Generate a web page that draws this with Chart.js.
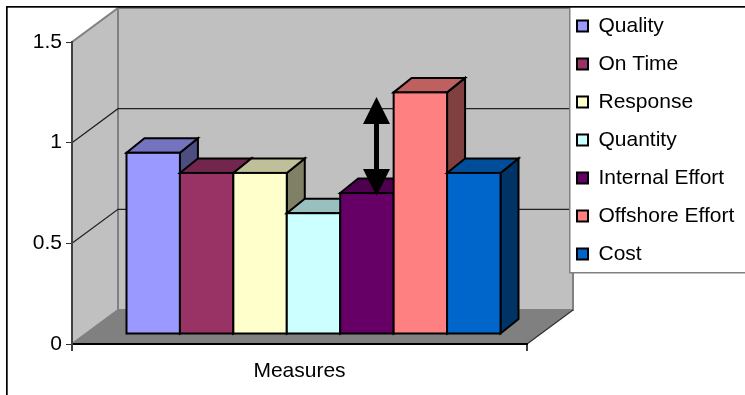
<!DOCTYPE html>
<html>
<head>
<meta charset="utf-8">
<title>Measures</title>
<script src="https://cdn.jsdelivr.net/npm/chart.js@4/dist/chart.umd.js"></script>
<style>
  html, body { margin: 0; padding: 0; background: #fff; overflow: hidden; }
  canvas { display: block; }
</style>
</head>
<body>
<canvas id="measuresChart" width="745" height="395"></canvas>
<script>
const categories = ["Measures"];
const seriesNames = ["Quality", "On Time", "Response", "Quantity", "Internal Effort", "Offshore Effort", "Cost"];
const seriesValues = [0.9, 0.8, 0.8, 0.6, 0.7, 1.2, 0.8];
const seriesColors = ["#9999ff", "#993366", "#ffffcc", "#ccffff", "#660066", "#ff8080", "#0066cc"];
const yTicks = [0, 0.5, 1, 1.5];

const FONT = { family: "'Liberation Sans', Arial, sans-serif", size: 21 };

// fake 3D box: how far the back wall and the bars sit from the front plane
const WALL_DEPTH = { x: 46, y: -34 };
const BAR_SHIFT = { x: 14, y: -10 };
const BAR_DEPTH = { x: 18, y: -14.5 };

function shade(hex, factor) {
  const n = parseInt(hex.slice(1), 16);
  const r = Math.round(((n >> 16) & 255) * factor);
  const g = Math.round(((n >> 8) & 255) * factor);
  const b = Math.round((n & 255) * factor);
  return `rgb(${r},${g},${b})`;
}

function poly(ctx, points, fill, stroke, width) {
  ctx.beginPath();
  points.forEach(([x, y], i) => (i ? ctx.lineTo(x, y) : ctx.moveTo(x, y)));
  ctx.closePath();
  if (fill) {
    ctx.fillStyle = fill;
    ctx.fill();
  }
  if (stroke) {
    ctx.strokeStyle = stroke;
    ctx.lineWidth = width;
    ctx.stroke();
  }
}

function drawWalls(chart) {
  const { ctx, chartArea: a } = chart;
  const dx = WALL_DEPTH.x;
  const dy = WALL_DEPTH.y;

  ctx.fillStyle = "#fff";
  ctx.fillRect(0, 0, chart.width, chart.height);

  poly(ctx, [[a.left, a.top], [a.left + dx, a.top + dy], [a.left + dx, a.bottom + dy], [a.left, a.bottom]], "#c0c0c0", "#808080", 2);
  poly(ctx, [[a.left + dx, a.top + dy], [a.right + dx, a.top + dy], [a.right + dx, a.bottom + dy], [a.left + dx, a.bottom + dy]], "#c0c0c0", "#808080", 2);
  poly(ctx, [[a.left, a.bottom], [a.left + dx, a.bottom + dy], [a.right + dx, a.bottom + dy], [a.right, a.bottom]], "#808080");

  // floor edge on the right
  ctx.beginPath();
  ctx.moveTo(a.right, a.bottom);
  ctx.lineTo(a.right + dx, a.bottom + dy);
  ctx.strokeStyle = "#303030";
  ctx.lineWidth = 1.2;
  ctx.stroke();

  // gridlines run along the side wall, then across the back wall
  const y = chart.scales.y;
  yTicks.slice(1, -1).forEach((tick) => {
    const py = y.getPixelForValue(tick);
    ctx.beginPath();
    ctx.moveTo(a.left, py);
    ctx.lineTo(a.left + dx, py + dy);
    ctx.lineTo(a.right + dx, py + dy);
    ctx.strokeStyle = "#202020";
    ctx.lineWidth = 1.2;
    ctx.stroke();
  });

  // legend panel
  ctx.fillStyle = "#fff";
  ctx.fillRect(570, 7, 175, 265);
  ctx.fillStyle = "#808080";
  ctx.fillRect(569, 7, 1.5, 266);
  ctx.fillRect(569, 272, 176, 1.5);

  // outer frame, open at the right and the bottom
  ctx.fillStyle = "#000";
  ctx.fillRect(6, 6, 739, 1.7);
  ctx.fillRect(6, 6, 1.7, 389);
}

function drawArrow(ctx) {
  const cx = 376.5;
  ctx.fillStyle = "#000";
  ctx.fillRect(cx - 2.5, 120, 5, 52);
  poly(ctx, [[cx, 97], [cx + 13.5, 124], [cx - 13.5, 124]], "#000");
  poly(ctx, [[cx, 196], [cx + 13.5, 169], [cx - 13.5, 169]], "#000");
}

function drawBox(chart, meta, color) {
  const { ctx } = chart;
  const bar = meta.data[0];
  const left = bar.x - bar.width / 2;
  const right = bar.x + bar.width / 2;
  const dx = BAR_DEPTH.x;
  const dy = BAR_DEPTH.y;

  ctx.save();
  ctx.translate(BAR_SHIFT.x, BAR_SHIFT.y);
  ctx.lineJoin = "miter";
  poly(ctx, [[right, bar.y], [right + dx, bar.y + dy], [right + dx, bar.base + dy], [right, bar.base]], shade(color, 0.5), "#000", 2);
  poly(ctx, [[left, bar.y], [left + dx, bar.y + dy], [right + dx, bar.y + dy], [right, bar.y]], shade(color, 0.75), "#000", 2);
  meta.controller.draw();
  ctx.strokeStyle = "#000";
  ctx.lineWidth = 2;
  ctx.strokeRect(left, bar.y, bar.width, bar.base - bar.y);
  ctx.restore();
}

const boxes3d = {
  id: "boxes3d",
  afterLayout(chart) {
    // the legend keeps its own drawing, only its anchor moves
    Object.assign(chart.legend, { left: 560, top: -1.5, right: 745, bottom: 395 });
  },
  beforeDraw: drawWalls,
  beforeDatasetsDraw(chart) {
    // boxes overlap, so they paint left to right rather than in the default order
    chart.getSortedVisibleDatasetMetas().forEach((meta) => {
      drawBox(chart, meta, seriesColors[meta.index]);
    });
    return false;
  },
  afterDraw(chart) {
    drawArrow(chart.ctx);
  }
};

new Chart(document.getElementById("measuresChart"), {
  type: "bar",
  plugins: [boxes3d],
  data: {
    labels: categories,
    datasets: seriesNames.map((name, i) => ({
      label: name,
      data: [seriesValues[i]],
      backgroundColor: seriesColors[i],
      borderWidth: 0
    }))
  },
  options: {
    responsive: false,
    animation: false,
    events: [],
    layout: { padding: { left: 0, top: 42, right: 218, bottom: 0 } },
    datasets: {
      bar: { categoryPercentage: 0.822, barPercentage: 1 }
    },
    scales: {
      x: {
        afterFit(scale) {
          scale.height = 51;
        },
        border: { color: "#000", width: 2 },
        grid: { drawOnChartArea: false, tickLength: 7, color: "#404040", lineWidth: 2 },
        ticks: { color: "#000", font: FONT, padding: 8, maxRotation: 0 }
      },
      y: {
        min: 0,
        max: 1.5,
        afterFit(scale) {
          scale.width = 72;
        },
        afterBuildTicks(scale) {
          scale.ticks = yTicks.map((value) => ({ value }));
        },
        border: { color: "#404040", width: 2 },
        grid: { drawOnChartArea: false, tickLength: 6, color: "#303030", lineWidth: 1 },
        ticks: { color: "#000", font: FONT, padding: 4, callback: (value) => String(value) }
      }
    },
    plugins: {
      tooltip: { enabled: false },
      legend: {
        position: "chartArea",
        align: "start",
        labels: {
          color: "#000",
          font: FONT,
          boxWidth: 11,
          boxHeight: 11,
          padding: 17,
          generateLabels(chart) {
            return Chart.defaults.plugins.legend.labels.generateLabels(chart).map((item) => ({
              ...item,
              lineWidth: 2,
              strokeStyle: "#000"
            }));
          }
        }
      }
    }
  }
});
</script>
</body>
</html>
